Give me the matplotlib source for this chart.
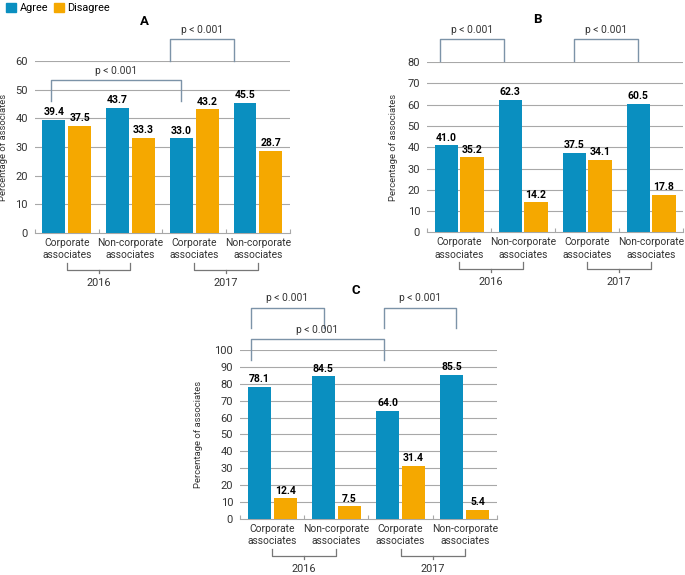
import matplotlib.pyplot as plt
from matplotlib.patches import Patch

plt.rcParams['font.family'] = ['Liberation Sans Narrow', 'Roboto', 'DejaVu Sans']

categories = ["Corporate\nassociates", "Non-corporate\nassociates",
              "Corporate\nassociates", "Non-corporate\nassociates"]
years = ["2016", "2017"]

agree_a = [39.4, 43.7, 33.0, 45.5]
disagree_a = [37.5, 33.3, 43.2, 28.7]
agree_b = [41.0, 62.3, 37.5, 60.5]
disagree_b = [35.2, 14.2, 34.1, 17.8]
agree_c = [78.1, 84.5, 64.0, 85.5]
disagree_c = [12.4, 7.5, 31.4, 5.4]

# brackets: (x_left, x_right, y_bottom, y_top, label_y)
brackets_a = [(1.62, 2.63, 60, 67.6, 70.8), (-0.24, 1.8, 46, 53.3, 56.5)]
brackets_b = [(-0.3, 0.7, 80.5, 90.8, 95.0), (1.8, 2.8, 80.5, 90.8, 95.0)]
brackets_c = [(-0.33, 0.81, 113, 124.8, 130.5), (1.74, 2.86, 113, 124.8, 130.5),
              (-0.33, 1.74, 94, 106.5, 112.0)]

BLUE = "#0a8fc0"
ORANGE = "#f5a800"
GRID = "#a8a8a8"
BRK = "#7c93a8"
TXT = "#333333"

fig = plt.figure(figsize=(6.85, 5.75), dpi=100)


def panel(rect, agree, disagree, ymax, step, title, title_x, title_y, ylab_x, brackets):
    ax = fig.add_axes(rect)
    hpx = rect[3] * 575  # axes height in pixels

    def py(px):
        # pixels below the x axis -> axes fraction
        return -px / hpx

    x = range(len(categories))
    w = 0.36
    ax.bar([i - 0.203 for i in x], agree, w, color=BLUE, zorder=3)
    ax.bar([i + 0.203 for i in x], disagree, w, color=ORANGE, zorder=3)
    for i in x:
        ax.text(i - 0.203, agree[i] + ymax * 0.015, f"{agree[i]:.1f}", ha="center",
                va="bottom", fontsize=7.5, fontweight="bold", zorder=4)
        ax.text(i + 0.203, disagree[i] + ymax * 0.015, f"{disagree[i]:.1f}", ha="center",
                va="bottom", fontsize=7.5, fontweight="bold", zorder=4)
    ax.set_xlim(-0.5, 3.5)
    ax.set_ylim(0, ymax)
    ax.set_yticks(range(0, ymax + 1, step))
    for t in range(step, ymax + 1, step):
        ax.axhline(t, color=GRID, lw=0.8, zorder=1)
    for s in ["top", "right", "left"]:
        ax.spines[s].set_visible(False)
    ax.spines["bottom"].set_color(GRID)
    ax.tick_params(axis="y", length=0, labelsize=8, pad=5, labelcolor=TXT)
    ax.set_xticks([-0.5, 0.5, 1.5, 2.5, 3.5])
    ax.set_xticklabels([])
    ax.tick_params(axis="x", direction="in", length=3, color=GRID)

    tr = ax.get_xaxis_transform()
    for i, c in enumerate(categories):
        ax.text(i, py(16), c, transform=tr, ha="center", va="center",
                fontsize=7.4, linespacing=1.35, color=TXT)
    # year brackets
    for k, yr in enumerate(years):
        l, r = 2 * k, 2 * k + 1
        ax.plot([l, l, r, r], [py(30), py(37), py(37), py(30)], color="#777777",
                lw=0.9, transform=tr, clip_on=False)
        ax.plot([(l + r) / 2] * 2, [py(37), py(40)], color="#777777", lw=0.9,
                transform=tr, clip_on=False)
        ax.text((l + r) / 2, py(50), yr, ha="center", va="center", fontsize=7.8,
                transform=tr, color=TXT)
    for xl, xr, yb, yt, ly in brackets:
        ax.plot([xl, xl, xr, xr], [yb, yt, yt, yb], color=BRK, lw=1.0, clip_on=False)
        ax.text((xl + xr) / 2, ly, "p < 0.001", ha="center", va="center",
                fontsize=7.4, color=TXT)
    ax.text(title_x, title_y, title, transform=ax.transAxes,
            ha="center", va="center", fontsize=9.5, fontweight="bold")
    ax.set_ylabel("Percentage of associates", fontsize=6.8, color=TXT)
    ax.yaxis.set_label_coords(ylab_x, 0.5)
    return ax


axA = panel([0.051, 0.5948, 0.372, 0.2991], agree_a, disagree_a, 60, 10,
            "A", 0.43, 1.23, -0.106, brackets_a)
axB = panel([0.6234, 0.5957, 0.3737, 0.2965], agree_b, disagree_b, 80, 10,
            "B", 0.43, 1.25, -0.113, brackets_b)
axC = panel([0.3504, 0.0974, 0.375, 0.2939], agree_c, disagree_c, 100, 10,
            "C", 0.45, 1.35, -0.144, brackets_c)

handles = [Patch(color=BLUE, label="Agree"), Patch(color=ORANGE, label="Disagree")]
fig.legend(handles=handles, loc="upper left", bbox_to_anchor=(-0.005, 1.012), ncol=2,
           frameon=False, fontsize=7.8, handlelength=0.9, handleheight=0.9,
           handletextpad=0.3, columnspacing=0.6)

fig.savefig("out.png", dpi=100)
